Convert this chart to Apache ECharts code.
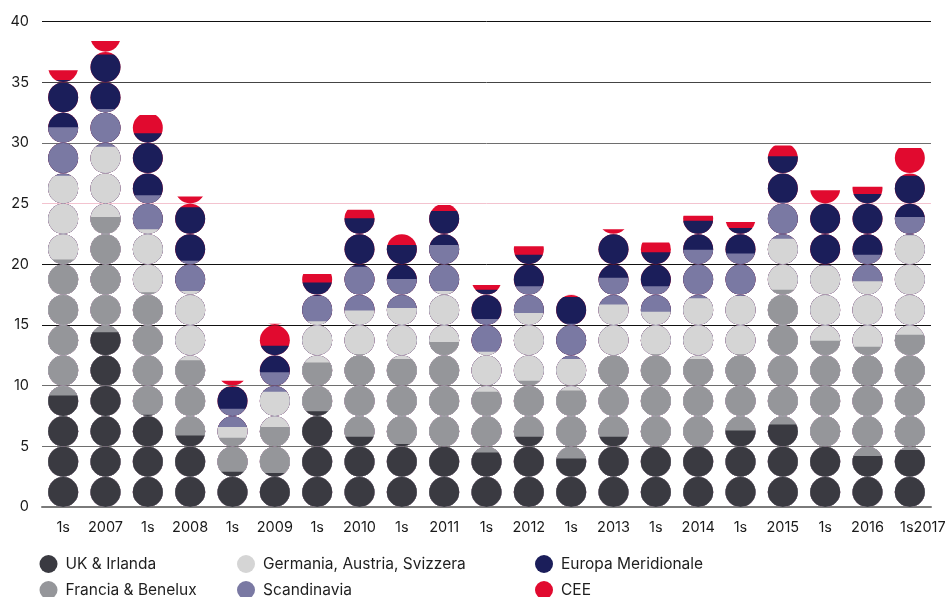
<!DOCTYPE html>
<html><head><meta charset="utf-8">
<script src="https://cdn.jsdelivr.net/npm/echarts@6/dist/echarts.min.js"></script>
<style>html,body{margin:0;padding:0;background:#fff}#c{width:952px;height:597px}</style>
</head><body><div id="c"></div>
<script>
const categories = ['1s','2007','1s','2008','1s','2009','1s','2010','1s','2011','1s','2012','1s','2013','1s','2014','1s','2015','1s','2016','1s2017'];
const seriesNames = ['UK & Irlanda','Francia & Benelux','Germania, Austria, Svizzera','Scandinavia','Europa Meridionale','CEE'];
const ukIrlanda =               [9.2,14.4,7.6,5.9,2.9,2.8,7.9,5.8,5.2,5.0,4.5,5.8,4.0,5.8,5.0,5.0,6.3,6.8,5.0,4.2,4.7];
const franciaBenelux =          [11.2,9.5,10.1,6.2,2.8,3.8,4.0,6.8,7.0,8.6,5.0,4.6,5.6,6.7,7.6,7.2,6.3,11.1,8.7,9.0,9.5];
const germaniaAustriaSvizzera = [6.9,5.8,5.2,5.7,0.9,2.9,3.4,3.6,4.2,4.2,3.3,5.6,2.6,4.2,3.5,5.0,4.8,4.2,6.2,5.4,8.2];
const scandinavia =             [4.0,3.1,2.8,2.5,1.5,1.6,2.1,3.6,2.4,3.8,2.7,2.2,2.9,2.2,2.1,4.0,3.5,3.0,0.0,2.2,1.5];
const europaMeridionale =       [3.9,4.5,5.1,4.4,1.8,2.2,1.1,4.0,2.8,2.8,2.4,2.6,2.2,3.6,2.8,2.4,2.1,3.8,5.1,5.0,3.4];
const cee =                     [0.8,1.1,1.5,0.9,0.5,1.8,0.7,0.7,0.9,0.5,0.4,0.7,0.2,0.4,0.8,0.4,0.5,0.9,1.1,0.6,2.3];
const yTickLabels = ['0','5','10','15','20','25','30','35','40'];
const colors = ['#3a3a41','#95969a','#d5d5d5','#7a79a3','#1b1e5a','#e10a2f'];

const groups = [ukIrlanda, franciaBenelux, germaniaAustriaSvizzera, scandinavia, europaMeridionale, cee];
const cum = [];
groups.forEach((g, i) => {
  cum.push(g.map((v, j) => +((i ? cum[i-1][j] : 0) + v).toFixed(2)));
});

const series = groups.map((g, i) => ({
  name: seriesNames[i],
  type: 'pictorialBar',
  symbol: 'circle',
  symbolSize: [30, 30],
  symbolRepeat: 16,
  symbolBoundingData: 40,
  symbolClip: true,
  symbolPosition: 'start',
  barGap: '-100%',
  z: 20 - i,
  itemStyle: { color: colors[i] },
  data: cum[i]
}));

const font = 'Inter, "Noto Sans", sans-serif';
const legendLeft = [39.5, 39.5, 237, 237, 535, 535];
const legendTop = [555, 581, 555, 581, 555, 581];
const legends = seriesNames.map((n, i) => ({
  left: legendLeft[i], top: legendTop[i], padding: 0,
  itemWidth: 18, itemHeight: 18, icon: 'circle', selectedMode: false,
  textStyle: { fontFamily: font, fontSize: 15.5, color: '#1e1e1e', padding: [0, 0, 0, 3] },
  data: [n]
}));

const chart = echarts.init(document.getElementById('c'), null, { renderer: 'canvas' });
chart.setOption({
  animation: false,
  color: colors,
  grid: { left: 42, right: 21, top: 21.7, bottom: 90, containLabel: false },
  legend: legends,
  xAxis: {
    type: 'category',
    data: categories.map((c, i) => i === categories.length - 1 ? { value: c, textStyle: { padding: [0, 0, 0, 26] } } : c),
    axisTick: { show: false },
    axisLine: { show: true, lineStyle: { color: '#7a7a7a', width: 2 } },
    axisLabel: { fontFamily: font, fontSize: 14.5, color: '#1a1a1a', margin: 13, interval: 0 },
    z: 1
  },
  yAxis: {
    type: 'value', min: 0, max: 40, interval: 5,
    axisLine: { show: false }, axisTick: { show: false },
    axisLabel: { fontFamily: font, fontSize: 14.5, color: '#1a1a1a', margin: 13,
      formatter: (v) => yTickLabels[Math.round(v / 5)] },
    splitLine: { show: true, lineStyle: { width: 1,
      color: ['#7a7a7a','#6e6e6e','#6e6e6e','#111111','#111111','#f3c3cf','#6e6e6e','#444444','#111111'] } }
  },
  series: series
});
</script>
</body></html>
